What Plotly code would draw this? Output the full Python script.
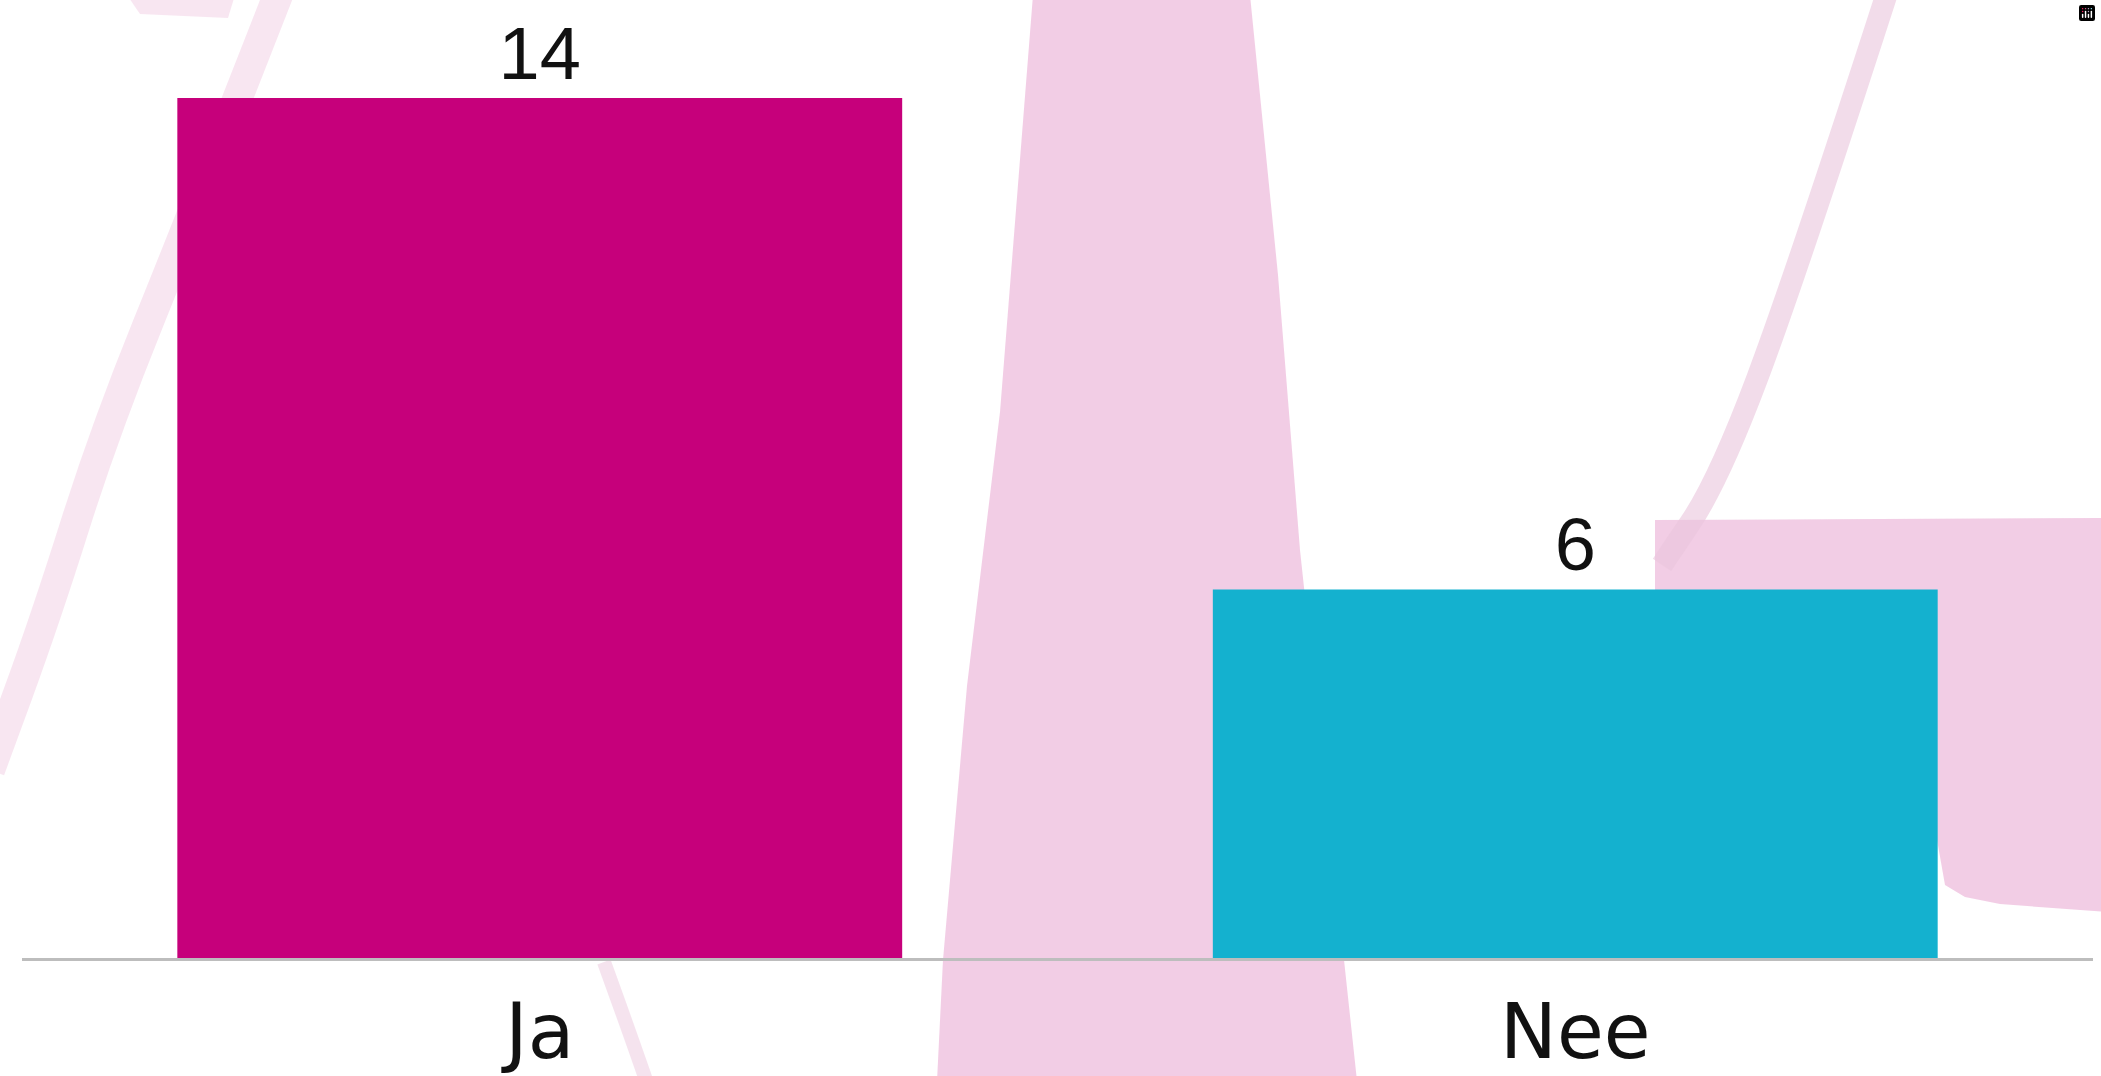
import plotly.graph_objects as go

# ---- data ----
categories = ["Ja", "Nee"]
values = [14, 6]
bar_colors = ["#C6007B", "#14B1CF"]

# ---- canvas geometry ----
W, H = 2101, 1076
ML, MR, MT, MB = 22, 8, 20, 118
PW, PH = W - ML - MR, H - MT - MB


def to_paper(x, y):
    return (x - ML) / PW, (H - MB - y) / PH


def poly(points):
    parts = []
    for i, (x, y) in enumerate(points):
        px, py = to_paper(x, y)
        parts.append(("M" if i == 0 else "L") + f"{px:.5f},{py:.5f}")
    return " ".join(parts) + " Z"


def curve(points):
    pts = [to_paper(x, y) for x, y in points]
    d = f"M{pts[0][0]:.5f},{pts[0][1]:.5f}"
    for i in range(1, len(pts) - 1):
        mx = (pts[i][0] + pts[i + 1][0]) / 2
        my = (pts[i][1] + pts[i + 1][1]) / 2
        d += f" Q{pts[i][0]:.5f},{pts[i][1]:.5f} {mx:.5f},{my:.5f}"
    d += f" L{pts[-1][0]:.5f},{pts[-1][1]:.5f}"
    return d


PINK = "rgba(240,196,224,0.85)"
PINK_LIGHT = "rgba(240,200,225,0.45)"

shapes = []
# big central band
shapes.append(dict(type="path", xref="paper", yref="paper", layer="below",
                   path=poly([(1033, -5), (1250, -5), (1278, 275), (1300, 550), (1357, 1081),
                              (937, 1081), (943, 960), (967, 686), (1000, 412)]),
                   fillcolor=PINK, line=dict(width=0)))
# right block
shapes.append(dict(type="path", xref="paper", yref="paper", layer="below",
                   path=poly([(1655, 520), (2106, 518), (2106, 912), (2000, 904), (1965, 897),
                              (1945, 885), (1930, 800), (1655, 600)]),
                   fillcolor=PINK, line=dict(width=0)))
# right diagonal stroke
shapes.append(dict(type="path", xref="paper", yref="paper", layer="below",
                   path=curve([(1888, -10), (1796, 275), (1719, 480), (1662, 565)]),
                   line=dict(color="rgba(234,196,220,0.6)", width=22)))
# left diagonal stroke
shapes.append(dict(type="path", xref="paper", yref="paper", layer="below",
                   path=curve([(280, -10), (190, 220), (105, 430), (45, 620), (-10, 770)]),
                   line=dict(color=PINK_LIGHT, width=30)))
# top-left blob
shapes.append(dict(type="path", xref="paper", yref="paper", layer="below",
                   path=poly([(127, -5), (235, -5), (228, 18), (140, 14)]),
                   fillcolor=PINK_LIGHT, line=dict(width=0)))
# small stroke near "Ja"
shapes.append(dict(type="path", xref="paper", yref="paper", layer="below",
                   path=curve([(604, 962), (625, 1020), (646, 1080)]),
                   line=dict(color="rgba(236,200,222,0.5)", width=14)))

fig = go.Figure(go.Bar(
    x=categories, y=values,
    marker=dict(color=bar_colors, line=dict(width=0)),
    texttemplate="%{y}", textposition="outside",
    textfont=dict(size=74, color="#111111", family="Liberation Sans"),
    constraintext="none",
    cliponaxis=False, width=0.7,
))

fig.update_layout(
    width=W, height=H,
    margin=dict(l=ML, r=MR, t=MT, b=MB, pad=0),
    paper_bgcolor="white", plot_bgcolor="rgba(0,0,0,0)",
    showlegend=False, shapes=shapes,
    font=dict(family="Liberation Sans", color="#111111", size=74),
    modebar=dict(bgcolor="rgba(0,0,0,0)", color="rgba(0,0,0,0)",
                 activecolor="rgba(0,0,0,0)"),
)
fig.update_xaxes(showline=True, linecolor="#BDBDBD", linewidth=3, ticks="",
                 showgrid=False, zeroline=False, automargin=False,
                 tickfont=dict(size=76, color="#111111", family="DejaVu Sans"),
                 ticklabelstandoff=6)
fig.update_yaxes(visible=False, range=[0, 15.27], showgrid=False, zeroline=False)

fig.write_html(
    "out.html",
    post_script="document.body.style.margin='0';document.body.style.overflow='hidden';",
)
